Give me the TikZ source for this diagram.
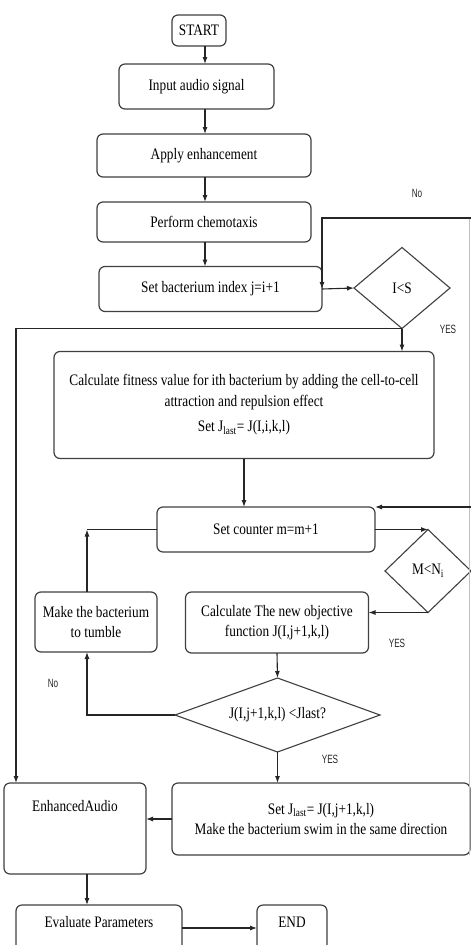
\documentclass[tikz,border=0pt]{standalone}
\usepackage{fontspec}
\setmainfont[FakeStretch=0.83]{Liberation Serif}
\newfontfamily\lblfont[FakeStretch=0.68]{Liberation Sans}
\usetikzlibrary{shapes.geometric,arrows.meta}
\begin{document}
\begin{tikzpicture}[x=1pt,y=-1pt,
  every node/.style={font=\fontsize{16}{20.5}\selectfont, outer sep=0pt},
  box/.style={draw=black!75, line width=1.2pt, rounded corners=6pt, inner sep=0pt, align=center, fill=white},
  dec/.style={draw=black!75, line width=1.1pt, diamond, inner sep=0pt, fill=white},
  arr/.style={draw=black!85, line width=1.1pt, -{Latex[length=7pt,width=5pt]}},
  ln/.style={draw=black!85, line width=1.1pt},
  lbl/.style={font=\lblfont\fontsize{12}{13}\selectfont, text=black!85}]
\useasboundingbox (0,0) rectangle (471,945);

% nodes
\node[box, minimum width=54pt, minimum height=31pt] (start) at (199,30.5) {START};
\node[box, minimum width=155pt, minimum height=45pt] (input) at (196.5,86.5) {Input audio signal};
\node[box, minimum width=214pt, minimum height=43pt] (apply) at (204,155.5) {Apply enhancement};
\node[box, minimum width=214pt, minimum height=40pt] (chemo) at (204,222) {Perform chemotaxis};
\node[box, minimum width=223pt, minimum height=45pt] (setbact) at (210.5,289) {Set bacterium index j=i+1};
\node[dec, minimum width=96pt, minimum height=81pt] (ils) at (402,288) {I<S};
\node[box, minimum width=380pt, minimum height=107pt] (fitness) at (244,405) {Calculate fitness value for ith bacterium by adding the cell-to-cell\\attraction and repulsion effect\\[5pt]Set J\textsubscript{last}= J(I,i,k,l)};
\node[box, minimum width=218pt, minimum height=45pt] (counter) at (266,529.5) {Set counter m=m+1};
\node[dec, minimum width=86pt, minimum height=83pt] (mn) at (428,571) {M<N\textsubscript{i}};
\node[box, minimum width=122pt, minimum height=60pt] (tumble) at (96,622) {Make the bacterium\\to tumble};
\node[box, minimum width=183pt, minimum height=61pt] (calcobj) at (277,622.5) {Calculate The new objective\\function J(I,j+1,k,l)};
\node[dec, shape aspect=2.77, minimum width=205pt, minimum height=74pt] (jd) at (277.5,715) {J(I,j+1,k,l) <Jlast?};
\node[box, minimum width=298pt, minimum height=72pt] (setjlast) at (321,819) {Set J\textsubscript{last}= J(I,j+1,k,l)\\Make the bacterium swim in the same direction};
\node[box, anchor=north, minimum width=142pt, text height=28pt, text depth=63pt] (enh) at (75,783) {EnhancedAudio};
\node[box, anchor=north, minimum width=166pt, text height=22pt, text depth=45pt] (eval) at (99,905) {Evaluate Parameters};
\node[box, anchor=north, minimum width=70pt, text height=22pt, text depth=45pt] (end) at (292,905) {END};

% helper coordinates
\coordinate (ax) at (205,0);
\coordinate (r1) at (471,218);
\coordinate (r2) at (471,507);
\coordinate (r3) at (469.5,855);
\coordinate (lx) at (16,328);
\coordinate (tx) at (87,529.5);
\coordinate (ey) at (0,928);

% faint right border line
\draw[black!25, line width=0.6pt] (r1 -| r3) -- (r3);

% connectors
\draw[arr] (start.south -| ax) -- (input.north -| ax);
\draw[arr] (input.south -| ax) -- (apply.north -| ax);
\draw[arr] (apply.south -| ax) -- (chemo.north -| ax);
\draw[arr] (chemo.south -| ax) -- (setbact.north -| ax);
\draw[arr] (r1) -- (setbact.east |- r1) -- (setbact.east);
\draw[arr] (setbact.east) -- (ils.west);
\draw[arr] (ils.south) -- (ils.south |- fitness.north);
\draw[arr] (ils.south) -- (ils.south -| lx) -- (lx |- enh.north);
\draw[arr] (fitness.south) -- (fitness.south |- counter.north);
\draw[arr] (r2) -- (counter.north east);
\draw[arr] (counter.east) -- (mn.north);
\draw[arr] (mn.south) -- (mn.south -| calcobj.east);
\draw[arr] (tumble.north -| tx) -- (tx);
\draw[ln] (tx) -- (counter.west);
\draw[arr] (calcobj.south) -- (jd.north);
\draw[arr] (jd.west) -- (jd.west -| tx) -- (tumble.south -| tx);
\draw[arr] (jd.south) -- (jd.south |- setjlast.north);
\draw[arr] (setjlast.west) -- (setjlast.west -| enh.east);
\draw[arr] (enh.south -| tx) -- (eval.north -| tx);
\draw[arr] (eval.east |- ey) -- (end.west |- ey);

% labels
\node[lbl] (no1) at (417,193) {No};
\node[lbl] (yes1) at (448,329) {YES};
\node[lbl] (yes2) at (397,643) {YES};
\node[lbl] (no2) at (53,683) {No};
\node[lbl] (yes3) at (330,759) {YES};
\end{tikzpicture}
\end{document}
